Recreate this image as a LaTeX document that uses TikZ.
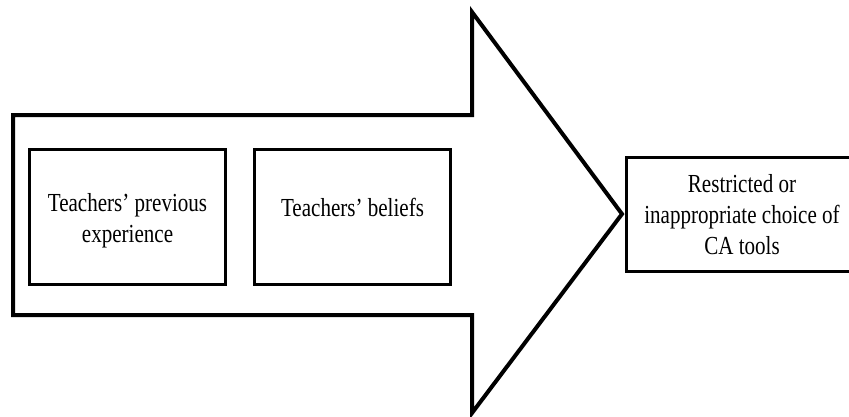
\documentclass[tikz,border=0pt]{standalone}
\usepackage{fontspec}
\setmainfont{Liberation Serif}[FakeStretch=0.81]
\tikzset{
  factor/.style={draw, line width=3pt, minimum width=196pt, minimum height=135pt, align=center, inner sep=0pt},
  bigarrow/.style={draw, line width=4pt, line join=miter},
}
\begin{document}
\begin{tikzpicture}[x=1pt, y=-1pt, font=\fontsize{26}{31}\selectfont]
  \useasboundingbox (0,0) rectangle (849,416);
  \clip (0,0) rectangle (849,416);
  % the big arrow behind the two factors
  \draw[bigarrow] (13,115) -- (472,115) -- (472,12) -- (622,214) -- (472,413) -- (472,315) -- (13,315) -- cycle;
  \node[factor] (experience) at (127.5,217) {\rule{0pt}{26pt}Teachers’ previous\\experience};
  \node[factor, text height=16pt, text depth=18pt] (beliefs) at (352.5,217) {Teachers’ beliefs};
  % outcome, cut off at the right edge
  \node[factor, minimum width=231pt, minimum height=114pt] (choice) at (742,214.5) {Restricted or\\inappropriate choice of\\CA tools};
\end{tikzpicture}
\end{document}
